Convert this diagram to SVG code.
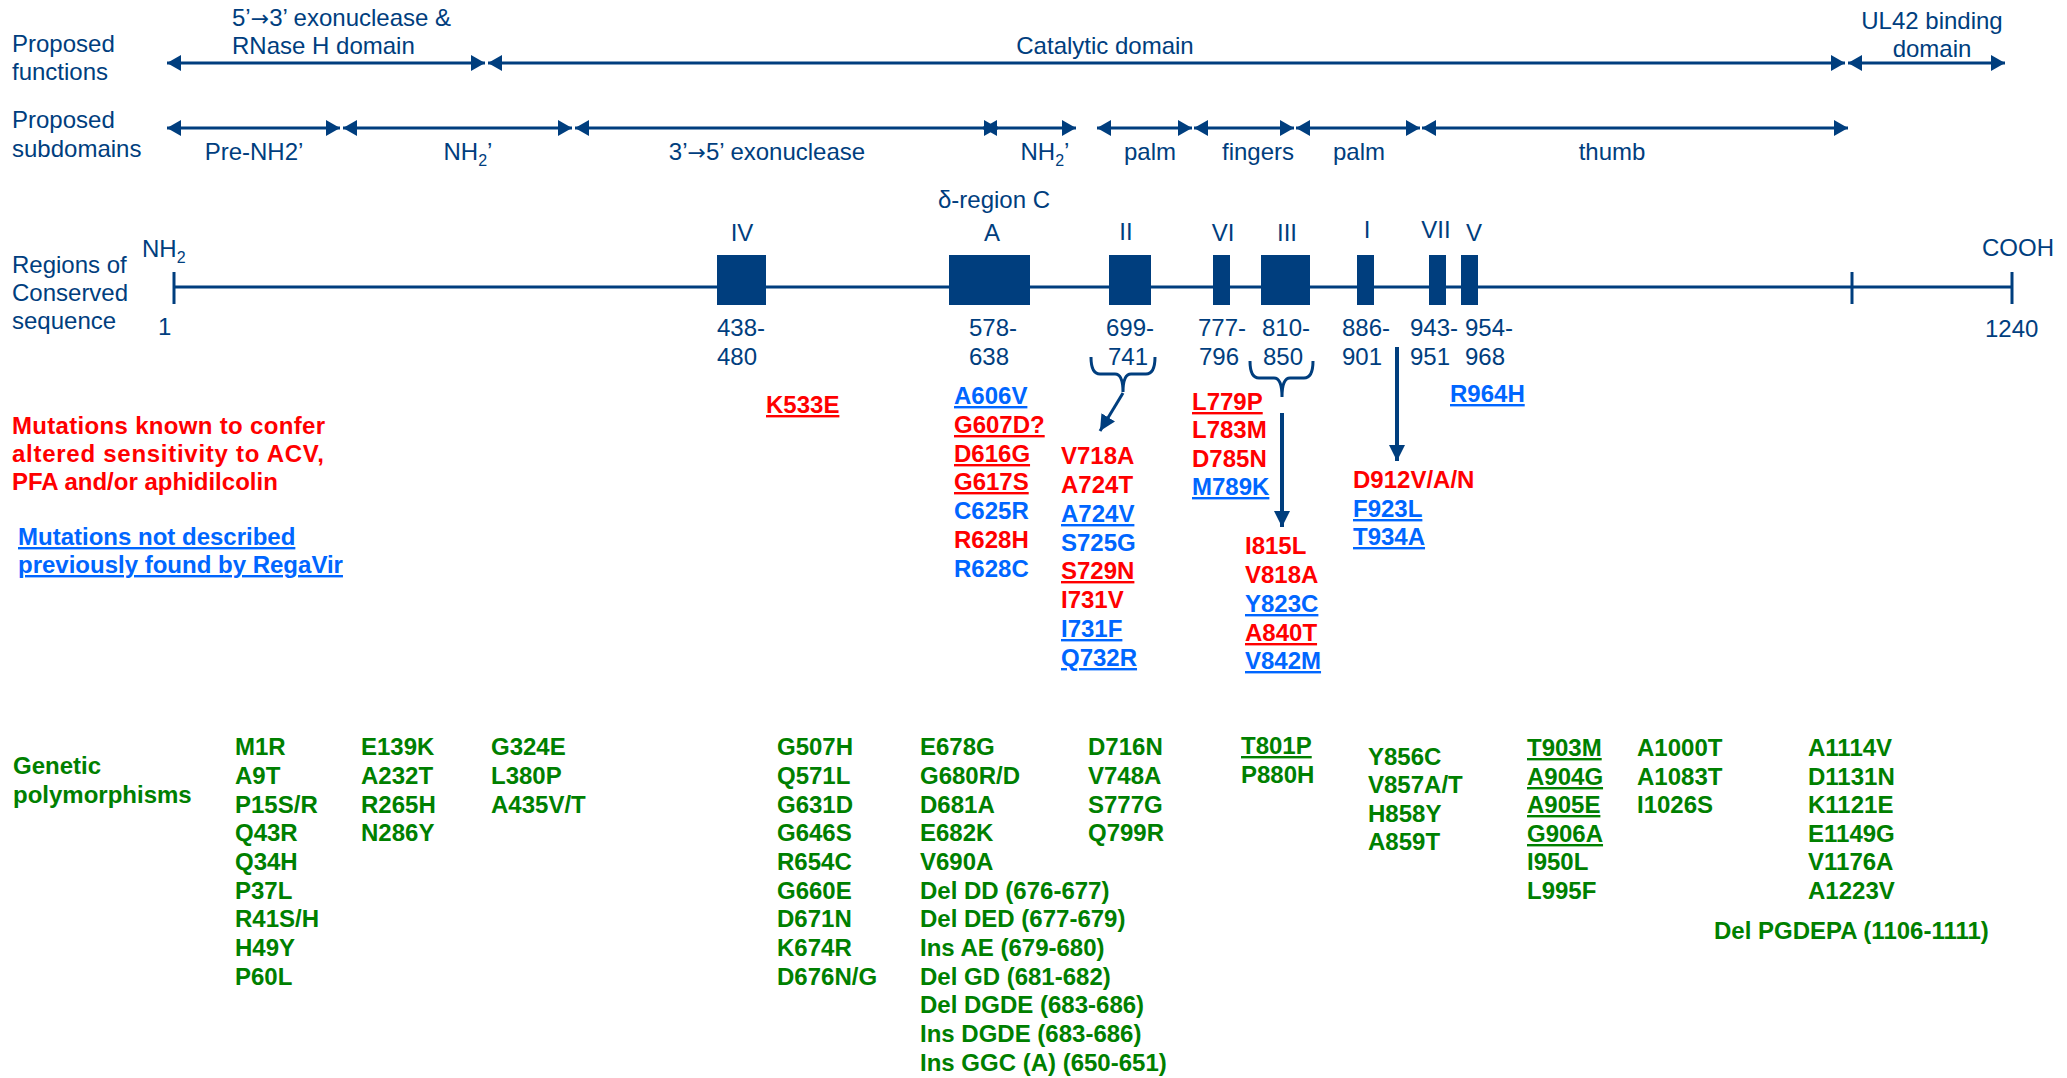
<svg xmlns="http://www.w3.org/2000/svg" width="2067" height="1078" viewBox="0 0 2067 1078">
<defs>
<style>
text{font-family:"Liberation Sans",Arial,sans-serif;font-size:24px}
.n{fill:#003e7e}
.m{font-weight:bold}
.r{fill:#ff0000}
.b{fill:#0066ff}
.g{fill:#008000}
.u{text-decoration:underline}
.c{text-anchor:middle}
.ar{font-family:"DejaVu Sans",sans-serif;font-size:22px}
.ln{stroke:#003e7e;stroke-width:3;fill:none}
.da{stroke:#003e7e;stroke-width:3;fill:none;marker-start:url(#ah);marker-end:url(#ah)}
.box{fill:#003e7e}
</style>
<marker id="ah" viewBox="0 0 14 16" refX="14" refY="8" markerWidth="14" markerHeight="16" markerUnits="userSpaceOnUse" orient="auto-start-reverse"><path d="M0,0 L14,8 L0,16 z" fill="#003e7e"/></marker>
<marker id="ahv" viewBox="0 0 16 16" refX="16" refY="8" markerWidth="16" markerHeight="16" markerUnits="userSpaceOnUse" orient="auto"><path d="M0,0 L16,8 L0,16 z" fill="#003e7e"/></marker>
</defs>
<rect width="2067" height="1078" fill="#ffffff"/>

<g id="row-labels">
<text class="n" x="12" y="52">Proposed</text>
<text class="n" x="12" y="80">functions</text>
<text class="n" x="12" y="128">Proposed</text>
<text class="n" x="12" y="157">subdomains</text>
<text class="n" x="12" y="273">Regions of</text>
<text class="n" x="12" y="301">Conserved</text>
<text class="n" x="12" y="329">sequence</text>
</g>

<g id="connectors">
<line class="da" x1="167" y1="63" x2="485" y2="63"/>
<line class="da" x1="488" y1="63" x2="1845" y2="63"/>
<line class="da" x1="1848" y1="63" x2="2005" y2="63"/>
<line class="da" x1="167" y1="128" x2="340" y2="128"/>
<line class="da" x1="343" y1="128" x2="572" y2="128"/>
<line class="da" x1="575" y1="128" x2="998" y2="128"/>
<line class="da" x1="983" y1="128" x2="1076" y2="128"/>
<line class="da" x1="1097" y1="128" x2="1192" y2="128"/>
<line class="da" x1="1194" y1="128" x2="1294" y2="128"/>
<line class="da" x1="1296" y1="128" x2="1420" y2="128"/>
<line class="da" x1="1422" y1="128" x2="1848" y2="128"/>
<path class="ln" d="M1091,357 Q1091,374 1100,374 L1115,374 Q1123,374 1123,392 Q1123,374 1131,374 L1146,374 Q1155,374 1155,357" stroke-width="2"/>
<path class="ln" d="M1250,361 Q1250,378 1259,378 L1274,378 Q1282,378 1282,397 Q1282,378 1290,378 L1304,378 Q1313,378 1313,361" stroke-width="2"/>
<line x1="1123" y1="393" x2="1100" y2="431" stroke="#003e7e" stroke-width="3" marker-end="url(#ahv)"/>
<line x1="1282" y1="413" x2="1282" y2="527" stroke="#003e7e" stroke-width="4" marker-end="url(#ahv)"/>
<line x1="1397" y1="347" x2="1397" y2="461" stroke="#003e7e" stroke-width="4" marker-end="url(#ahv)"/>
</g>

<g id="function-labels">
<text class="n" x="232" y="26">5’<tspan class="ar">→</tspan>3’ exonuclease &amp;</text>
<text class="n" x="232" y="54">RNase H domain</text>
<text class="n c" x="1105" y="54">Catalytic domain</text>
<text class="n c" x="1932" y="29">UL42 binding</text>
<text class="n c" x="1932" y="57">domain</text>
</g>

<g id="subdomain-labels">
<text class="n c" x="254" y="160">Pre-NH2’</text>
<text class="n c" x="468" y="160">NH<tspan font-size="16" dy="6">2</tspan><tspan dy="-6">’</tspan></text>
<text class="n c" x="767" y="160">3’<tspan class="ar">→</tspan>5’ exonuclease</text>
<text class="n c" x="1045" y="160">NH<tspan font-size="16" dy="6">2</tspan><tspan dy="-6">’</tspan></text>
<text class="n c" x="1150" y="160">palm</text>
<text class="n c" x="1258" y="160">fingers</text>
<text class="n c" x="1359" y="160">palm</text>
<text class="n c" x="1612" y="160">thumb</text>
</g>

<g id="sequence-line">
<line class="ln" x1="173" y1="287" x2="2013" y2="287"/>
<line class="ln" x1="174" y1="272" x2="174" y2="304" stroke-width="2.5"/>
<line class="ln" x1="1852" y1="272" x2="1852" y2="304" stroke-width="2.5"/>
<line class="ln" x1="2012" y1="272" x2="2012" y2="304" stroke-width="2.5"/>
<text class="n" x="142" y="257">NH<tspan font-size="16" dy="6">2</tspan></text>
<text class="n" x="158" y="335">1</text>
<text class="n" x="1982" y="256">COOH</text>
<text class="n" x="1985" y="337">1240</text>
<text class="n c" x="994" y="208">δ-region C</text>
</g>

<g id="region-IV"><rect class="box" x="717" y="255" width="49" height="50"/><text class="n c" x="742" y="241">IV</text><text class="n" x="717" y="336">438-</text><text class="n" x="717" y="365">480</text></g>
<g id="region-A"><rect class="box" x="949" y="255" width="81" height="50"/><text class="n c" x="992" y="241">A</text><text class="n" x="969" y="336">578-</text><text class="n" x="969" y="365">638</text></g>
<g id="region-II"><rect class="box" x="1109" y="255" width="42" height="50"/><text class="n c" x="1126" y="240">II</text><text class="n" x="1106" y="336">699-</text><text class="n" x="1108" y="365">741</text></g>
<g id="region-VI"><rect class="box" x="1213" y="255" width="17" height="50"/><text class="n c" x="1223" y="241">VI</text><text class="n" x="1198" y="336">777-</text><text class="n" x="1199" y="365">796</text></g>
<g id="region-III"><rect class="box" x="1261" y="255" width="49" height="50"/><text class="n c" x="1287" y="241">III</text><text class="n" x="1262" y="336">810-</text><text class="n" x="1263" y="365">850</text></g>
<g id="region-I"><rect class="box" x="1357" y="255" width="17" height="50"/><text class="n c" x="1367" y="238">I</text><text class="n" x="1342" y="336">886-</text><text class="n" x="1342" y="365">901</text></g>
<g id="region-VII"><rect class="box" x="1429" y="255" width="17" height="50"/><text class="n c" x="1436" y="238">VII</text><text class="n" x="1410" y="336">943-</text><text class="n" x="1410" y="365">951</text></g>
<g id="region-V"><rect class="box" x="1461" y="255" width="17" height="50"/><text class="n c" x="1474" y="241">V</text><text class="n" x="1465" y="336">954-</text><text class="n" x="1465" y="365">968</text></g>

<g id="legend">
<text class="m r" x="12" y="434" textLength="313" lengthAdjust="spacing">Mutations known to confer</text>
<text class="m r" x="12" y="462" textLength="312" lengthAdjust="spacing">altered sensitivity to ACV,</text>
<text class="m r" x="12" y="490">PFA and/or aphidilcolin</text>
<text class="m b u" x="18" y="545">Mutations not described</text>
<text class="m b u" x="18" y="573">previously found by RegaVir</text>
</g>

<g id="mut-K533E"><text class="m r u" x="766" y="413">K533E</text></g>

<g id="mut-regionA">
<text class="m b u" x="954" y="404">A606V</text>
<text class="m r u" x="954" y="433">G607D?</text>
<text class="m r u" x="954" y="462">D616G</text>
<text class="m r u" x="954" y="490">G617S</text>
<text class="m b" x="954" y="519">C625R</text>
<text class="m r" x="954" y="548">R628H</text>
<text class="m b" x="954" y="577">R628C</text>
</g>

<g id="mut-regionII">
<text class="m r" x="1061" y="464">V718A</text>
<text class="m r" x="1061" y="493">A724T</text>
<text class="m b u" x="1061" y="522">A724V</text>
<text class="m b" x="1061" y="551">S725G</text>
<text class="m r u" x="1061" y="579">S729N</text>
<text class="m r" x="1061" y="608">I731V</text>
<text class="m b u" x="1061" y="637">I731F</text>
<text class="m b u" x="1061" y="666">Q732R</text>
</g>

<g id="mut-regionVI">
<text class="m r u" x="1192" y="410">L779P</text>
<text class="m r" x="1192" y="438">L783M</text>
<text class="m r" x="1192" y="467">D785N</text>
<text class="m b u" x="1192" y="495">M789K</text>
</g>

<g id="mut-regionIII">
<text class="m r" x="1245" y="554">I815L</text>
<text class="m r" x="1245" y="583">V818A</text>
<text class="m b u" x="1245" y="612">Y823C</text>
<text class="m r u" x="1245" y="641">A840T</text>
<text class="m b u" x="1245" y="669">V842M</text>
</g>

<g id="mut-regionI">
<text class="m r" x="1353" y="488">D912V/A/N</text>
<text class="m b u" x="1353" y="517">F923L</text>
<text class="m b u" x="1353" y="545">T934A</text>
</g>

<g id="mut-R964H"><text class="m b u" x="1450" y="402">R964H</text></g>

<g id="polymorphisms-label">
<text class="m g" x="13" y="774">Genetic</text>
<text class="m g" x="13" y="803">polymorphisms</text>
</g>

<g id="poly-col1">
<text class="m g" x="235" y="755">M1R</text>
<text class="m g" x="235" y="784">A9T</text>
<text class="m g" x="235" y="813">P15S/R</text>
<text class="m g" x="235" y="841">Q43R</text>
<text class="m g" x="235" y="870">Q34H</text>
<text class="m g" x="235" y="899">P37L</text>
<text class="m g" x="235" y="927">R41S/H</text>
<text class="m g" x="235" y="956">H49Y</text>
<text class="m g" x="235" y="985">P60L</text>
</g>
<g id="poly-col2">
<text class="m g" x="361" y="755">E139K</text>
<text class="m g" x="361" y="784">A232T</text>
<text class="m g" x="361" y="813">R265H</text>
<text class="m g" x="361" y="841">N286Y</text>
</g>
<g id="poly-col3">
<text class="m g" x="491" y="755">G324E</text>
<text class="m g" x="491" y="784">L380P</text>
<text class="m g" x="491" y="813">A435V/T</text>
</g>
<g id="poly-col4">
<text class="m g" x="777" y="755">G507H</text>
<text class="m g" x="777" y="784">Q571L</text>
<text class="m g" x="777" y="813">G631D</text>
<text class="m g" x="777" y="841">G646S</text>
<text class="m g" x="777" y="870">R654C</text>
<text class="m g" x="777" y="899">G660E</text>
<text class="m g" x="777" y="927">D671N</text>
<text class="m g" x="777" y="956">K674R</text>
<text class="m g" x="777" y="985">D676N/G</text>
</g>
<g id="poly-col5">
<text class="m g" x="920" y="755">E678G</text>
<text class="m g" x="920" y="784">G680R/D</text>
<text class="m g" x="920" y="813">D681A</text>
<text class="m g" x="920" y="841">E682K</text>
<text class="m g" x="920" y="870">V690A</text>
<text class="m g" x="920" y="899">Del DD (676-677)</text>
<text class="m g" x="920" y="927">Del DED (677-679)</text>
<text class="m g" x="920" y="956">Ins AE (679-680)</text>
<text class="m g" x="920" y="985">Del GD (681-682)</text>
<text class="m g" x="920" y="1013">Del DGDE (683-686)</text>
<text class="m g" x="920" y="1042">Ins DGDE (683-686)</text>
<text class="m g" x="920" y="1071">Ins GGC (A) (650-651)</text>
</g>
<g id="poly-col6">
<text class="m g" x="1088" y="755">D716N</text>
<text class="m g" x="1088" y="784">V748A</text>
<text class="m g" x="1088" y="813">S777G</text>
<text class="m g" x="1088" y="841">Q799R</text>
</g>
<g id="poly-col7">
<text class="m g u" x="1241" y="754">T801P</text>
<text class="m g" x="1241" y="783">P880H</text>
</g>
<g id="poly-col8">
<text class="m g" x="1368" y="765">Y856C</text>
<text class="m g" x="1368" y="793">V857A/T</text>
<text class="m g" x="1368" y="822">H858Y</text>
<text class="m g" x="1368" y="850">A859T</text>
</g>
<g id="poly-col9">
<text class="m g u" x="1527" y="756">T903M</text>
<text class="m g u" x="1527" y="785">A904G</text>
<text class="m g u" x="1527" y="813">A905E</text>
<text class="m g u" x="1527" y="842">G906A</text>
<text class="m g" x="1527" y="870">I950L</text>
<text class="m g" x="1527" y="899">L995F</text>
</g>
<g id="poly-col10">
<text class="m g" x="1637" y="756">A1000T</text>
<text class="m g" x="1637" y="785">A1083T</text>
<text class="m g" x="1637" y="813">I1026S</text>
</g>
<g id="poly-col11">
<text class="m g" x="1808" y="756">A1114V</text>
<text class="m g" x="1808" y="785">D1131N</text>
<text class="m g" x="1808" y="813">K1121E</text>
<text class="m g" x="1808" y="842">E1149G</text>
<text class="m g" x="1808" y="870">V1176A</text>
<text class="m g" x="1808" y="899">A1223V</text>
</g>
<g id="poly-del"><text class="m g" x="1714" y="939">Del PGDEPA (1106-1111)</text></g>
</svg>
